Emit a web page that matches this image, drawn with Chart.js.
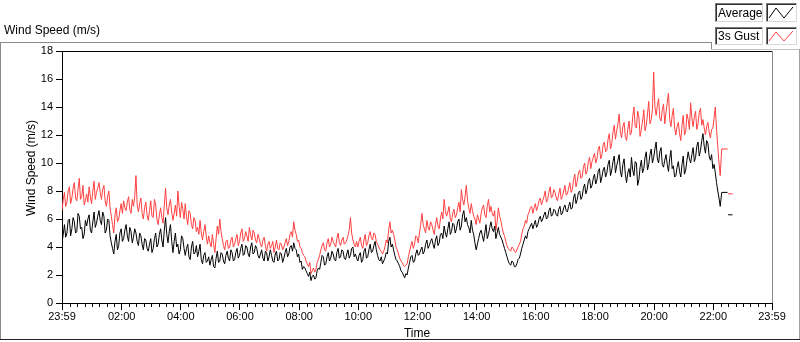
<!DOCTYPE html>
<html><head><meta charset="utf-8">
<script src="https://cdn.jsdelivr.net/npm/chart.js@4/dist/chart.umd.min.js"></script>
<style>
html,body{margin:0;padding:0;background:#fff;}
#wrap{position:relative;width:800px;height:342px;overflow:hidden;font-family:"Liberation Sans",Arial,sans-serif;color:#000;}
canvas{position:absolute;left:0;top:0;}
.ln{position:absolute;}
.lbox{position:absolute;box-sizing:border-box;border:1px solid;border-color:#7a7a7a #d8d8d8 #d8d8d8 #7a7a7a;box-shadow:inset 1px 1px 0 #303030;background:#fff;font-size:12px;white-space:nowrap;}
.lbox span{position:absolute;left:2px;}
.sw{position:absolute;box-sizing:border-box;border:1px solid;border-color:#7a7a7a #d8d8d8 #d8d8d8 #7a7a7a;box-shadow:inset 1px 1px 0 #303030;background:#fff;}
#ytitle{position:absolute;left:31px;top:168px;transform:translate(-50%,-50%) rotate(-90deg);font-size:12px;line-height:14px;white-space:nowrap;}
</style></head>
<body><div id="wrap">
<canvas id="c" width="800" height="342"></canvas>
<div style="position:absolute;left:4px;top:23px;font-size:12px;line-height:14px;white-space:nowrap">Wind Speed (m/s)</div>
<div class="ln" style="left:0;top:42px;width:711px;height:1px;background:#8a8a8a"></div>
<div class="ln" style="left:0;top:42px;width:1px;height:298px;background:#8a8a8a"></div>
<div class="ln" style="left:711px;top:42px;width:1px;height:7px;background:#8a8a8a"></div>
<div class="ln" style="left:711px;top:49px;width:88px;height:1px;background:#c4c4c4"></div>
<div class="ln" style="left:799px;top:49px;width:1px;height:291px;background:#a0a0a0"></div>
<div class="ln" style="left:0;top:339px;width:800px;height:1px;background:#222"></div>
<div class="lbox" style="left:715px;top:3px;width:48px;height:19px"><span style="top:2px">Average</span></div>
<div class="sw" style="left:766px;top:3px;width:31px;height:19px"><svg width="29" height="17" style="position:absolute;left:0;top:0"><polyline points="2,14 9,4 17,14 26,3" fill="none" stroke="#000" stroke-width="1"/></svg></div>
<div class="lbox" style="left:715px;top:27px;width:48px;height:18px"><span style="top:1px">3s Gust</span></div>
<div class="sw" style="left:766px;top:27px;width:31px;height:18px"><svg width="29" height="16" style="position:absolute;left:0;top:0"><polyline points="2,13 9,4 17,13 26,3" fill="none" stroke="#ff4040" stroke-width="1"/></svg></div>
<div id="ytitle">Wind Speed (m/s)</div>
</div>
<script>
const sampleStepMin = 2.5;
const avgSpeed = [
4.3,4.9,5.6,4.7,5.0,5.9,6.0,4.8,5.3,6.1,
5.8,5.0,5.1,6.4,6.2,5.3,5.4,4.6,4.9,5.9,
5.5,6.0,6.3,5.2,5.0,5.8,6.5,5.4,5.7,6.2,
6.6,5.9,5.6,6.5,6.2,5.0,5.2,6.0,5.9,4.8,
4.3,3.9,3.5,4.4,4.9,3.8,4.1,5.0,5.3,4.4,
4.6,5.2,5.6,4.8,4.4,5.4,5.1,4.3,4.7,5.3,
5.0,4.4,4.1,5.0,4.8,4.2,3.8,4.6,4.5,3.9,
3.7,4.2,4.6,3.6,3.9,4.6,5.0,4.0,4.2,4.9,
5.3,4.5,4.0,5.2,6.1,4.9,4.3,5.1,5.6,4.4,
3.6,4.4,5.0,4.0,4.2,3.5,3.8,4.8,4.6,3.9,
3.4,3.9,4.2,3.3,3.1,4.0,4.4,3.5,3.6,4.1,
3.3,3.7,4.2,3.1,2.8,3.4,3.6,2.9,3.0,3.3,
2.7,3.1,3.4,2.6,2.5,3.2,3.7,2.9,3.0,3.6,
3.5,3.0,2.8,3.4,3.7,3.2,3.0,3.8,3.6,3.0,
3.1,3.6,3.9,3.2,3.4,3.9,4.2,3.4,3.5,4.1,
4.0,3.5,3.3,4.0,4.3,3.5,3.6,4.1,3.9,3.4,
3.2,3.5,3.8,3.2,3.0,3.7,3.6,3.0,3.3,3.8,
3.4,3.0,2.9,3.5,3.7,3.0,3.1,3.6,3.5,2.9,
3.2,3.6,3.9,3.3,3.5,4.0,4.1,3.7,4.3,3.9,
3.8,3.3,3.5,2.9,3.0,2.4,2.6,2.5,2.3,2.1,
1.9,2.2,1.6,1.9,2.0,1.7,1.8,2.3,2.5,2.4,
2.9,3.4,3.3,2.7,2.8,3.3,3.6,3.0,3.2,3.7,
3.5,3.1,3.0,3.6,3.9,3.2,3.3,3.8,3.7,3.2,
3.1,3.5,3.8,3.2,3.4,3.9,4.0,3.3,3.5,3.2,
3.0,3.4,3.6,2.9,3.1,3.7,3.9,3.2,3.3,3.8,
4.2,3.6,3.7,4.1,4.4,3.8,3.4,3.1,3.0,3.3,
2.8,3.0,3.2,3.6,3.5,4.4,4.7,4.0,4.2,3.8,
3.4,3.1,3.0,2.8,2.6,2.3,2.2,2.0,1.8,2.1,
2.0,2.5,2.9,3.3,3.4,2.9,3.0,3.5,3.8,3.4,
3.5,3.8,4.0,3.5,3.7,4.2,4.5,3.9,4.1,4.4,
4.6,4.2,3.9,4.5,4.8,4.1,4.3,4.9,5.0,4.6,
5.5,5.0,4.7,5.3,5.8,4.9,5.1,5.7,5.6,5.0,
5.3,5.8,6.0,5.2,5.5,6.3,6.6,5.8,6.1,5.6,
5.4,5.0,5.9,5.2,4.9,4.3,3.8,4.2,4.6,5.0,
5.2,4.8,4.4,5.0,5.6,4.6,4.9,5.4,5.8,5.3,
5.1,5.5,4.6,5.0,5.4,4.9,4.7,4.5,4.2,3.9,
3.6,3.3,3.0,2.8,2.7,3.0,2.9,2.6,2.6,2.8,
3.1,3.2,3.5,3.9,4.2,4.5,4.8,4.6,5.1,5.3,
5.5,5.7,5.3,5.6,5.9,5.4,5.6,6.0,6.2,5.8,
6.0,6.3,6.5,6.0,6.1,6.6,6.8,6.2,6.3,6.7,
6.6,6.3,6.2,6.7,6.9,6.3,6.4,6.8,7.0,6.6,
6.5,6.9,7.2,6.7,6.8,7.5,7.8,7.1,7.4,7.9,
8.0,7.4,7.6,8.2,8.5,7.8,8.1,8.7,8.9,8.2,
8.4,8.9,9.2,8.5,8.8,9.4,9.6,8.6,9.0,9.5,
9.7,9.0,9.3,9.9,10.2,9.1,9.5,10.1,10.5,9.3,
9.8,10.2,10.6,9.4,9.0,9.9,10.3,9.2,8.6,9.3,
9.6,9.0,10.4,9.5,9.1,10.1,10.0,8.4,8.8,9.7,
10.2,9.3,9.6,10.4,10.8,9.5,9.9,10.6,11.0,10.0,
10.4,11.0,11.5,10.3,10.0,10.8,11.1,9.9,9.7,10.2,
10.6,9.9,9.4,10.3,10.9,9.6,9.8,9.0,9.1,9.7,
10.1,9.4,9.0,9.9,10.5,9.2,9.5,10.2,10.8,10.3,
10.0,10.6,11.1,10.1,10.4,11.2,11.5,10.5,10.9,11.6,
12.1,11.2,10.7,11.6,11.4,10.5,10.2,10.6,9.6,9.9,
9.3,8.6,8.0,7.5,6.9
];
const gustSpeed = [
6.6,7.4,7.9,6.9,7.2,8.0,8.3,7.1,7.5,8.2,
8.6,7.5,7.3,8.1,8.9,7.4,7.6,8.4,7.0,7.3,
7.8,7.2,8.3,7.6,7.1,8.0,8.7,7.4,7.9,8.2,
8.6,7.9,7.4,8.1,8.4,7.3,6.9,7.6,8.0,6.8,
6.2,5.6,5.0,6.3,6.8,5.8,6.0,6.6,7.1,6.4,
7.3,6.8,6.6,7.2,7.6,6.7,6.4,7.4,6.9,7.6,
9.1,7.0,6.5,7.1,7.5,6.4,6.0,6.8,7.2,6.3,
5.9,6.6,7.3,6.2,6.1,7.4,7.0,6.0,5.6,6.3,
6.8,6.1,5.7,7.0,8.2,6.8,6.3,7.0,7.4,6.5,
5.9,6.4,7.0,6.2,8.0,6.9,6.1,7.2,6.7,6.0,
7.1,6.2,5.6,6.6,6.4,5.6,5.3,6.1,5.9,5.1,
5.4,4.9,5.9,5.0,4.5,5.1,5.6,4.8,4.2,4.8,
4.3,4.0,4.9,4.2,3.6,4.6,5.5,4.9,6.0,5.1,
4.6,4.1,3.8,4.4,4.5,3.9,4.0,4.5,4.7,4.0,
4.2,4.6,4.9,4.1,4.4,5.0,5.3,4.4,4.6,5.1,
4.8,4.4,5.4,4.9,4.5,5.2,5.0,4.5,4.3,4.9,
4.6,4.2,4.0,4.5,4.7,4.1,3.7,4.2,4.4,3.9,
4.1,4.4,3.6,4.0,4.5,3.9,3.8,4.3,4.2,3.8,
4.0,4.3,4.6,4.1,4.4,4.9,5.1,4.7,5.8,5.2,
4.9,4.4,4.5,4.0,3.9,3.6,3.4,3.3,3.0,2.8,
2.6,2.9,2.1,2.3,2.5,2.2,2.4,2.9,3.1,3.4,
3.8,4.1,4.3,3.8,3.7,4.3,4.6,4.0,4.2,4.7,
4.4,4.2,4.0,4.6,5.0,4.3,4.1,4.5,4.7,4.2,
4.3,4.5,4.8,5.2,6.1,5.0,4.5,4.2,4.0,4.4,
4.0,4.4,4.7,4.1,3.9,4.5,4.9,4.1,4.3,4.8,
5.1,4.6,4.5,5.0,4.9,4.4,4.2,4.0,3.8,3.7,
3.5,3.7,4.0,4.5,4.3,5.2,5.8,5.0,5.2,4.9,
4.5,4.0,3.8,3.5,3.2,3.0,2.9,2.7,2.6,2.7,
2.8,3.3,3.7,4.1,4.4,3.9,4.2,4.8,4.7,4.3,
5.0,5.6,6.4,5.6,5.3,5.0,5.9,5.4,5.2,5.8,
5.6,5.2,4.9,5.6,6.1,5.5,5.3,6.0,6.5,6.0,
7.4,6.6,6.2,6.5,6.9,6.0,5.8,6.4,6.7,6.1,
6.3,6.8,7.2,6.5,8.1,7.4,7.0,7.6,8.4,7.3,
6.8,6.4,7.1,6.6,6.2,6.0,5.6,6.3,6.0,5.7,
6.4,6.8,7.0,6.3,6.1,6.9,7.4,6.5,6.9,6.4,
6.2,6.6,5.2,5.8,6.8,6.2,5.9,5.4,5.0,4.8,
4.4,4.1,3.9,3.8,3.7,4.0,3.9,3.7,3.6,3.8,
4.0,4.2,4.4,4.9,5.3,5.5,5.9,5.7,6.3,6.5,
6.8,6.9,6.4,6.8,7.1,6.6,6.9,7.3,7.5,7.0,
7.3,7.6,8.0,7.2,7.4,7.9,8.3,7.5,7.6,8.1,
7.9,7.5,7.3,7.8,8.2,7.4,7.6,8.0,8.4,7.7,
7.8,8.2,8.6,7.9,8.1,8.8,9.2,8.3,8.7,9.3,
9.5,8.9,9.0,9.7,10.0,9.2,9.4,10.1,10.4,9.6,
10.1,10.4,10.7,10.0,10.3,11.0,11.2,10.3,10.6,11.3,
11.5,10.8,10.9,11.7,12.1,11.0,11.4,12.2,12.7,11.7,
12.3,12.8,13.5,12.2,11.8,12.6,12.9,11.9,11.6,12.4,
13.0,12.0,12.2,13.3,14.0,12.6,12.5,13.7,13.3,11.9,
12.4,13.0,13.8,12.3,12.7,13.5,14.4,12.8,13.1,13.8,
16.5,14.0,13.4,14.1,14.6,13.2,13.0,13.8,14.2,12.8,
13.6,14.3,15.0,13.1,12.6,13.4,13.9,12.5,12.0,12.6,
12.9,12.1,11.6,12.7,13.4,12.0,12.2,13.5,13.1,12.4,
14.3,13.2,12.6,13.3,13.7,12.4,12.8,13.6,13.9,12.7,
13.1,12.5,12.0,12.6,12.9,12.2,11.8,12.4,12.5,13.2,
14.0,12.4,11.2,10.0,9.1
];
const tailMinutes = [1338, 1350, 1350.5, 1351, 1360];
const avgTail = [7.9, 7.9, null, 6.3, 6.3];
const gustTail = [11.0, 11.0, null, 7.8, 7.8];
const majorTickMinutes = [0,121,241,361,481,601,721,841,961,1081,1201,1321,1440];
const tickLabels = ["23:59","02:00","04:00","06:00","08:00","10:00","12:00","14:00","16:00","18:00","20:00","22:00","23:59"];
const yTickValues = [0,2,4,6,8,10,12,14,16,18];

function toPoints(values, tail) {
  const pts = values.map((v, i) => ({x: i * sampleStepMin, y: v}));
  tailMinutes.forEach((t, k) => pts.push({x: t, y: tail[k]}));
  return pts;
}

Chart.defaults.font.family = '"Liberation Sans", Arial, sans-serif';
Chart.defaults.font.size = 11;
Chart.defaults.color = '#000';

const framePlugin = {
  id: 'frame',
  afterDraw(chart) {
    const {ctx, chartArea: a, scales: {x}} = chart;
    ctx.save();
    ctx.lineWidth = 1;
    ctx.strokeStyle = '#000';
    ctx.beginPath();
    ctx.moveTo(a.left, a.top + 0.5); ctx.lineTo(a.right, a.top + 0.5);
    ctx.stroke();
    ctx.strokeStyle = '#8c8c8c';
    ctx.beginPath();
    ctx.moveTo(a.right + 0.5, a.top); ctx.lineTo(a.right + 0.5, a.bottom);
    ctx.stroke();
    ctx.strokeStyle = '#000';
    ctx.beginPath();
    for (let m = 1; m < 1440; m += 15) {
      if (majorTickMinutes.includes(m)) continue;
      const px = Math.round(x.getPixelForValue(m)) + 0.5;
      ctx.moveTo(px, x.top); ctx.lineTo(px, x.top + 4);
    }
    ctx.stroke();
    ctx.restore();
  }
};

new Chart(document.getElementById('c'), {
  type: 'line',
  data: {
    datasets: [
      {label: 'Average', data: toPoints(avgSpeed, avgTail), borderColor: '#000', borderWidth: 1, pointRadius: 0, tension: 0, spanGaps: false},
      {label: '3s Gust', data: toPoints(gustSpeed, gustTail), borderColor: '#ff4040', borderWidth: 1, pointRadius: 0, tension: 0, spanGaps: false}
    ]
  },
  options: {
    responsive: false,
    animation: false,
    devicePixelRatio: 1,
    layout: {padding: {left: 24, right: 28, top: 51, bottom: 1}},
    plugins: {legend: {display: false}, tooltip: {enabled: false}},
    scales: {
      x: {
        type: 'linear', min: 0, max: 1440, position: 'bottom',
        afterBuildTicks: s => { s.ticks = majorTickMinutes.map(v => ({value: v})); },
        afterFit: s => { s.height = 38; },
        ticks: {autoSkip: false, maxRotation: 0, minRotation: 0, padding: 0, callback: (v, i) => tickLabels[i], color: '#000', font: {size: 11}},
        grid: {drawOnChartArea: false, drawTicks: true, tickLength: 7, tickColor: '#000', color: '#000'},
        border: {display: true, color: '#000', width: 1},
        title: {display: true, text: 'Time', font: {size: 12}, color: '#000', padding: {top: 0, bottom: 0}}
      },
      y: {
        min: 0, max: 18,
        afterBuildTicks: s => { s.ticks = yTickValues.map(v => ({value: v})); },
        afterFit: s => { s.width = 38; },
        ticks: {padding: 3, color: '#000', font: {size: 11}, callback: v => String(v)},
        grid: {drawOnChartArea: false, drawTicks: true, tickLength: 6, tickColor: '#000', color: '#000'},
        border: {display: true, color: '#000', width: 1},
        title: {display: false}
      }
    }
  },
  plugins: [framePlugin]
});
</script>
</body></html>
